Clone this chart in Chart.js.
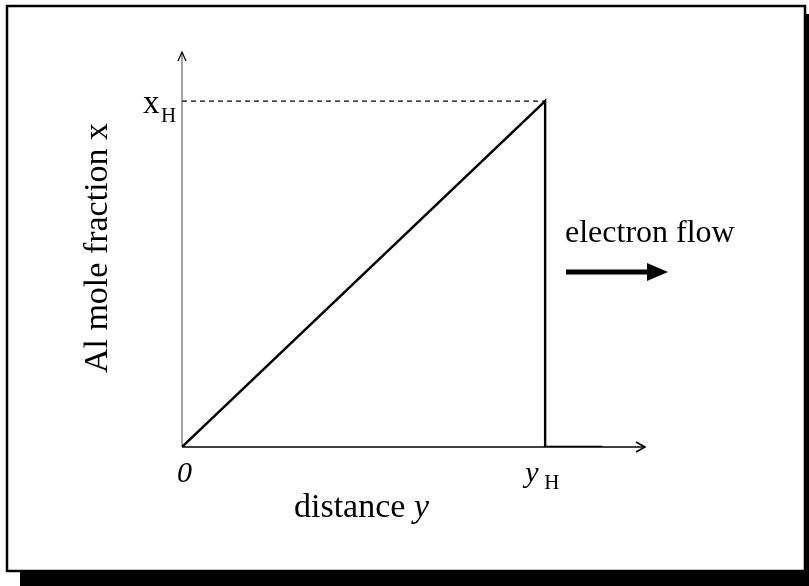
<!DOCTYPE html>
<html>
<head>
<meta charset="utf-8">
<script src="https://cdn.jsdelivr.net/npm/chart.js@4.4.1/dist/chart.umd.min.js"></script>
<style>
  html, body { margin: 0; padding: 0; background: #fff; }
  #wrap { width: 809px; height: 586px; position: relative; }
</style>
</head>
<body>
<div id="wrap"><canvas id="profileChart" width="809" height="586"></canvas></div>
<script>
// Graded Al profile: distance y (in units of y_H) vs Al mole fraction x (in units of x_H)
const distance = [0, 1, 1, 1.157];
const moleFraction = [0, 1, 0, 0];
// dashed guide from the x_H label to the top of the ramp
const guideDistance = [0, 1];
const guideFraction = [1, 1];
// ends of the drawn axes (arrow tips)
const axisEndY = 1.275;
const axisEndX = 1.142;

const serif = '"Liberation Serif", "Times New Roman", serif';

function toPoints(xs, ys) {
    return xs.map((v, i) => ({ x: v, y: ys[i] }));
}

function arrowHead(ctx, x, y, dir, len, half) {
    // dir: 'right' or 'up', open chevron
    ctx.beginPath();
    if (dir === 'right') {
        ctx.moveTo(x - len, y - half);
        ctx.lineTo(x, y);
        ctx.lineTo(x - len, y + half);
    } else {
        ctx.moveTo(x - half, y + len);
        ctx.lineTo(x, y);
        ctx.lineTo(x + half, y + len);
    }
    ctx.stroke();
}

// Axes, frame and annotations drawn around the plotted profile
const sketchPlugin = {
    id: 'sketch',
    beforeDatasetsDraw(chart) {
        const { ctx, scales: { x, y } } = chart;
        const x0 = x.getPixelForValue(0);
        const y0 = y.getPixelForValue(0);
        const xEnd = x.getPixelForValue(axisEndY);
        const yEnd = y.getPixelForValue(axisEndX);
        ctx.save();
        ctx.strokeStyle = '#000';
        // horizontal axis
        ctx.lineWidth = 1.6;
        ctx.beginPath();
        ctx.moveTo(x0, y0);
        ctx.lineTo(xEnd, y0);
        ctx.stroke();
        arrowHead(ctx, xEnd, y0, 'right', 9, 5);
        // vertical axis
        ctx.strokeStyle = '#444';
        ctx.lineWidth = 1;
        ctx.beginPath();
        ctx.moveTo(x0, y0);
        ctx.lineTo(x0, yEnd);
        ctx.stroke();
        ctx.strokeStyle = '#000';
        ctx.lineWidth = 1.3;
        arrowHead(ctx, x0, yEnd, 'up', 9, 4);
        ctx.restore();
    },
    afterDraw(chart) {
        const { ctx, scales: { x, y } } = chart;
        ctx.save();
        // frame with drop shadow
        ctx.fillStyle = '#000';
        ctx.fillRect(20, 572, 789, 14);
        ctx.fillRect(805, 14, 4, 572);
        ctx.strokeStyle = '#000';
        ctx.lineWidth = 2.5;
        ctx.strokeRect(7, 6, 798, 565);

        ctx.fillStyle = '#000';
        ctx.textBaseline = 'alphabetic';

        // x_H label on the vertical axis
        const yTop = y.getPixelForValue(1);
        ctx.font = '33px ' + serif;
        ctx.textAlign = 'left';
        ctx.fillText('x', 143, yTop + 12);
        ctx.font = '21px ' + serif;
        ctx.fillText('H', 161, yTop + 21);

        // origin and y_H on the horizontal axis
        const yBase = y.getPixelForValue(0) + 35;
        ctx.font = 'italic 30px ' + serif;
        ctx.fillText('0', x.getPixelForValue(0) - 5, yBase);
        ctx.fillText('y', x.getPixelForValue(1) - 20, yBase);
        ctx.font = '21px ' + serif;
        ctx.fillText('H', x.getPixelForValue(1) - 1, yBase + 7);

        // axis titles
        ctx.font = '34px ' + serif;
        const distLabel = 'distance ';
        ctx.fillText(distLabel, 294, 517);
        const w = ctx.measureText(distLabel).width;
        ctx.font = 'italic 34px ' + serif;
        ctx.fillText('y', 294 + w, 517);

        ctx.save();
        ctx.translate(107, 248);
        ctx.rotate(-Math.PI / 2);
        ctx.font = '34px ' + serif;
        ctx.textAlign = 'center';
        ctx.fillText('Al mole fraction x', 0, 0);
        ctx.restore();

        // electron flow note and arrow
        ctx.font = '32px ' + serif;
        ctx.textAlign = 'left';
        ctx.fillText('electron flow', 565, 242);
        ctx.lineWidth = 5;
        ctx.beginPath();
        ctx.moveTo(566, 272);
        ctx.lineTo(652, 272);
        ctx.stroke();
        ctx.beginPath();
        ctx.moveTo(668, 272);
        ctx.lineTo(647, 263);
        ctx.lineTo(647, 281);
        ctx.closePath();
        ctx.fill();
        ctx.restore();
    }
};

new Chart(document.getElementById('profileChart').getContext('2d'), {
    type: 'scatter',
    data: {
        datasets: [
            {
                label: 'guide',
                data: toPoints(guideDistance, guideFraction),
                showLine: true,
                borderColor: '#000',
                borderWidth: 1.2,
                borderDash: [5, 4],
                pointRadius: 0
            },
            {
                label: 'profile',
                data: toPoints(distance, moleFraction),
                showLine: true,
                borderColor: '#000',
                borderWidth: 2.4,
                pointRadius: 0,
                tension: 0
            }
        ]
    },
    options: {
        responsive: false,
        animation: false,
        layout: { padding: { left: 182, right: 164, top: 52, bottom: 139 } },
        plugins: {
            legend: { display: false },
            tooltip: { enabled: false }
        },
        scales: {
            x: { type: 'linear', min: 0, max: axisEndY, display: false },
            y: { type: 'linear', min: 0, max: axisEndX, display: false }
        }
    },
    plugins: [sketchPlugin]
});
</script>
</body>
</html>
